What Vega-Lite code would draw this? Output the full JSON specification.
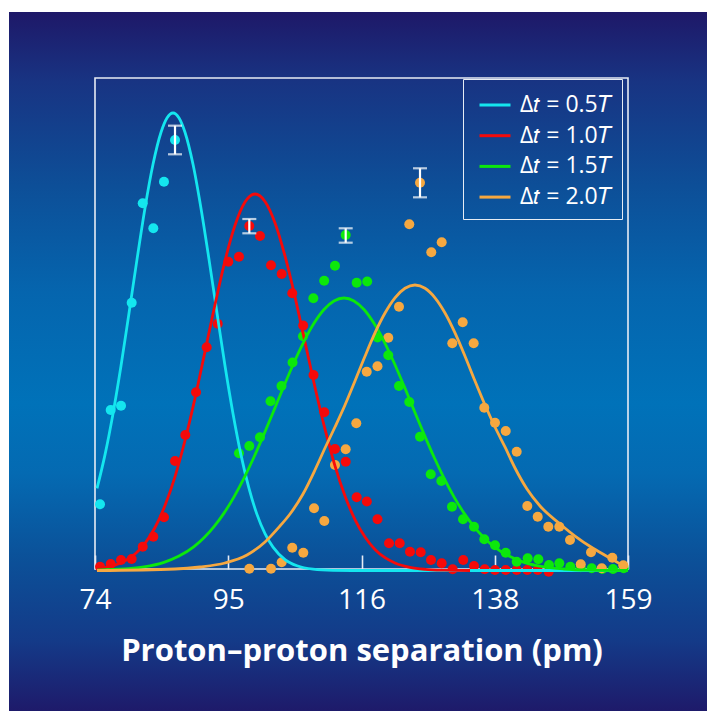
{
  "$schema": "https://vega.github.io/schema/vega-lite/v6.json",
  "width": 698,
  "height": 699,
  "autosize": {"type": "none"},
  "padding": {"left": 9, "top": 12, "right": 0, "bottom": 0},
  "background": "white",
  "config": {
    "view": {
      "stroke": null,
      "fill": {
        "gradient": "linear", "x1": 0, "y1": 0, "x2": 0, "y2": 1,
        "stops": [
          {"offset": 0, "color": "#1e1868"},
          {"offset": 0.1, "color": "#183483"},
          {"offset": 0.25, "color": "#0d4f98"},
          {"offset": 0.4, "color": "#0565ae"},
          {"offset": 0.56, "color": "#0072b9"},
          {"offset": 0.66, "color": "#046ab2"},
          {"offset": 0.78, "color": "#0b5199"},
          {"offset": 0.9, "color": "#143a88"},
          {"offset": 1, "color": "#1e1a6a"}
        ]
      }
    },
    "font": "Open Sans"
  },
  "resolve": {"scale": {"color": "independent"}, "legend": {"color": "independent"}},
  "datasets": {
    "pts": [
      {"k": "0.5", "x": 74.80, "y": 13.18}, {"k": "0.5", "x": 76.50, "y": 32.38}, {"k": "0.5", "x": 78.15, "y": 33.26}, {"k": "0.5", "x": 79.85, "y": 54.24}, {"k": "0.5", "x": 81.61, "y": 74.48}, {"k": "0.5", "x": 83.30, "y": 69.39}, {"k": "0.5", "x": 85.00, "y": 78.88}, {"k": "0.5", "x": 86.76, "y": 87.37},
      {"k": "1.0", "x": 74.80, "y": 0.47}, {"k": "1.0", "x": 76.50, "y": 1.02}, {"k": "1.0", "x": 78.15, "y": 1.83}, {"k": "1.0", "x": 79.85, "y": 2.04}, {"k": "1.0", "x": 81.61, "y": 4.54}, {"k": "1.0", "x": 83.30, "y": 6.58}, {"k": "1.0", "x": 85.00, "y": 10.53}, {"k": "1.0", "x": 86.76, "y": 22.00}, {"k": "1.0", "x": 88.40, "y": 27.29}, {"k": "1.0", "x": 90.11, "y": 35.99}, {"k": "1.0", "x": 91.81, "y": 45.15}, {"k": "1.0", "x": 93.57, "y": 49.96}, {"k": "1.0", "x": 95.26, "y": 62.59}, {"k": "1.0", "x": 96.96, "y": 63.61}, {"k": "1.0", "x": 98.61, "y": 69.86}, {"k": "1.0", "x": 100.31, "y": 67.82}, {"k": "1.0", "x": 102.07, "y": 61.87}, {"k": "1.0", "x": 103.77, "y": 60.08}, {"k": "1.0", "x": 105.46, "y": 56.15}, {"k": "1.0", "x": 107.20, "y": 49.59}, {"k": "1.0", "x": 108.85, "y": 39.51}, {"k": "1.0", "x": 110.57, "y": 31.91}, {"k": "1.0", "x": 112.27, "y": 24.44}, {"k": "1.0", "x": 113.98, "y": 21.85}, {"k": "1.0", "x": 115.73, "y": 14.60}, {"k": "1.0", "x": 117.35, "y": 13.75}, {"k": "1.0", "x": 119.05, "y": 10.12}, {"k": "1.0", "x": 120.89, "y": 5.23}, {"k": "1.0", "x": 122.59, "y": 5.23}, {"k": "1.0", "x": 124.23, "y": 3.52}, {"k": "1.0", "x": 125.94, "y": 3.40}, {"k": "1.0", "x": 127.58, "y": 1.83}, {"k": "1.0", "x": 129.29, "y": 1.16}, {"k": "1.0", "x": 131.04, "y": -0.06}, {"k": "1.0", "x": 132.73, "y": 1.83}, {"k": "1.0", "x": 134.44, "y": 0.61}, {"k": "1.0", "x": 136.15, "y": -0.06}, {"k": "1.0", "x": 137.79, "y": -0.2}, {"k": "1.0", "x": 139.50, "y": -0.2}, {"k": "1.0", "x": 141.25, "y": -0.2}, {"k": "1.0", "x": 142.94, "y": -0.2}, {"k": "1.0", "x": 144.60, "y": -0.2}, {"k": "1.0", "x": 146.35, "y": -0.55},
      {"k": "1.5", "x": 96.96, "y": 23.56}, {"k": "1.5", "x": 98.61, "y": 25.05}, {"k": "1.5", "x": 100.31, "y": 26.82}, {"k": "1.5", "x": 101.99, "y": 34.15}, {"k": "1.5", "x": 103.74, "y": 37.27}, {"k": "1.5", "x": 105.50, "y": 42.06}, {"k": "1.5", "x": 107.17, "y": 47.39}, {"k": "1.5", "x": 108.82, "y": 55.15}, {"k": "1.5", "x": 110.55, "y": 58.72}, {"k": "1.5", "x": 112.27, "y": 61.77}, {"k": "1.5", "x": 113.98, "y": 68.02}, {"k": "1.5", "x": 115.73, "y": 58.31}, {"k": "1.5", "x": 117.41, "y": 58.55}, {"k": "1.5", "x": 119.05, "y": 47.15}, {"k": "1.5", "x": 120.77, "y": 43.52}, {"k": "1.5", "x": 122.48, "y": 37.27}, {"k": "1.5", "x": 124.12, "y": 34.01}, {"k": "1.5", "x": 125.83, "y": 26.94}, {"k": "1.5", "x": 127.54, "y": 19.29}, {"k": "1.5", "x": 129.23, "y": 17.92}, {"k": "1.5", "x": 130.93, "y": 12.69}, {"k": "1.5", "x": 132.69, "y": 10.12}, {"k": "1.5", "x": 134.44, "y": 8.62}, {"k": "1.5", "x": 136.08, "y": 6.05}, {"k": "1.5", "x": 137.79, "y": 4.83}, {"k": "1.5", "x": 139.50, "y": 3.32}, {"k": "1.5", "x": 141.25, "y": 1.49}, {"k": "1.5", "x": 143.00, "y": 2.18}, {"k": "1.5", "x": 144.70, "y": 1.98}, {"k": "1.5", "x": 146.40, "y": 0.81}, {"k": "1.5", "x": 148.05, "y": 1.16}, {"k": "1.5", "x": 149.80, "y": 0.47}, {"k": "1.5", "x": 151.46, "y": 0.35}, {"k": "1.5", "x": 153.21, "y": 0.14}, {"k": "1.5", "x": 154.90, "y": 0.0}, {"k": "1.5", "x": 156.61, "y": 0.0}, {"k": "1.5", "x": 158.31, "y": 0.14},
      {"k": "2.0", "x": 98.61, "y": 0.06}, {"k": "2.0", "x": 102.07, "y": 0.06}, {"k": "2.0", "x": 103.77, "y": 1.36}, {"k": "2.0", "x": 105.46, "y": 4.34}, {"k": "2.0", "x": 107.22, "y": 3.32}, {"k": "2.0", "x": 108.93, "y": 12.36}, {"k": "2.0", "x": 110.57, "y": 9.78}, {"k": "2.0", "x": 112.27, "y": 21.18}, {"k": "2.0", "x": 113.98, "y": 24.38}, {"k": "2.0", "x": 115.67, "y": 29.67}, {"k": "2.0", "x": 117.33, "y": 40.18}, {"k": "2.0", "x": 119.05, "y": 41.28}, {"k": "2.0", "x": 120.77, "y": 47.11}, {"k": "2.0", "x": 122.48, "y": 53.42}, {"k": "2.0", "x": 124.12, "y": 70.22}, {"k": "2.0", "x": 125.83, "y": 78.68}, {"k": "2.0", "x": 127.63, "y": 64.52}, {"k": "2.0", "x": 129.29, "y": 66.54}, {"k": "2.0", "x": 130.98, "y": 45.97}, {"k": "2.0", "x": 132.64, "y": 50.25}, {"k": "2.0", "x": 134.39, "y": 45.97}, {"k": "2.0", "x": 136.08, "y": 32.85}, {"k": "2.0", "x": 137.79, "y": 29.80}, {"k": "2.0", "x": 139.50, "y": 28.11}, {"k": "2.0", "x": 141.25, "y": 23.89}, {"k": "2.0", "x": 142.94, "y": 12.83}, {"k": "2.0", "x": 144.60, "y": 10.65}, {"k": "2.0", "x": 146.29, "y": 8.62}, {"k": "2.0", "x": 148.05, "y": 8.62}, {"k": "2.0", "x": 149.75, "y": 5.91}, {"k": "2.0", "x": 151.46, "y": 0.96}, {"k": "2.0", "x": 153.10, "y": 3.40}, {"k": "2.0", "x": 154.81, "y": 0.14}, {"k": "2.0", "x": 156.50, "y": 2.30}, {"k": "2.0", "x": 158.25, "y": 0.75}
    ],
    "curves": [
      {"k": "0.5", "x": 74.32, "y": 16.42}, {"k": "0.5", "x": 75.59, "y": 23.24}, {"k": "0.5", "x": 76.87, "y": 31.63}, {"k": "0.5", "x": 78.15, "y": 41.38}, {"k": "0.5", "x": 79.42, "y": 52.10}, {"k": "0.5", "x": 80.70, "y": 63.06}, {"k": "0.5", "x": 81.97, "y": 73.48}, {"k": "0.5", "x": 83.25, "y": 82.42}, {"k": "0.5", "x": 84.53, "y": 88.96}, {"k": "0.5", "x": 85.48, "y": 91.87}, {"k": "0.5", "x": 86.44, "y": 92.87}, {"k": "0.5", "x": 87.40, "y": 91.87}, {"k": "0.5", "x": 88.35, "y": 88.96}, {"k": "0.5", "x": 89.63, "y": 82.42}, {"k": "0.5", "x": 90.90, "y": 73.48}, {"k": "0.5", "x": 92.18, "y": 63.06}, {"k": "0.5", "x": 93.46, "y": 52.10}, {"k": "0.5", "x": 94.73, "y": 41.38}, {"k": "0.5", "x": 96.01, "y": 31.63}, {"k": "0.5", "x": 97.28, "y": 23.24}, {"k": "0.5", "x": 98.56, "y": 16.42}, {"k": "0.5", "x": 99.83, "y": 11.12}, {"k": "0.5", "x": 101.11, "y": 7.21}, {"k": "0.5", "x": 102.39, "y": 4.46}, {"k": "0.5", "x": 104.30, "y": 1.93}, {"k": "0.5", "x": 106.21, "y": 0.65}, {"k": "0.5", "x": 108.77, "y": -0.04}, {"k": "0.5", "x": 111.95, "y": -0.26}, {"k": "0.5", "x": 116.26, "y": -0.31}, {"k": "0.5", "x": 159.0, "y": -0.31},
      {"k": "1.0", "x": 74.32, "y": 0.04}, {"k": "1.0", "x": 75.59, "y": 0.29}, {"k": "1.0", "x": 77.19, "y": 0.79}, {"k": "1.0", "x": 78.78, "y": 1.65}, {"k": "1.0", "x": 80.38, "y": 3.05}, {"k": "1.0", "x": 81.97, "y": 5.23}, {"k": "1.0", "x": 83.57, "y": 8.45}, {"k": "1.0", "x": 85.16, "y": 12.91}, {"k": "1.0", "x": 86.76, "y": 18.82}, {"k": "1.0", "x": 88.35, "y": 26.17}, {"k": "1.0", "x": 89.95, "y": 34.81}, {"k": "1.0", "x": 91.54, "y": 44.28}, {"k": "1.0", "x": 93.14, "y": 53.87}, {"k": "1.0", "x": 94.73, "y": 62.77}, {"k": "1.0", "x": 96.33, "y": 70.00}, {"k": "1.0", "x": 97.92, "y": 74.73}, {"k": "1.0", "x": 99.52, "y": 76.37}, {"k": "1.0", "x": 101.11, "y": 74.85}, {"k": "1.0", "x": 102.71, "y": 70.47}, {"k": "1.0", "x": 104.30, "y": 63.75}, {"k": "1.0", "x": 105.90, "y": 55.38}, {"k": "1.0", "x": 107.49, "y": 46.21}, {"k": "1.0", "x": 109.08, "y": 37.03}, {"k": "1.0", "x": 110.68, "y": 28.47}, {"k": "1.0", "x": 112.27, "y": 21.02}, {"k": "1.0", "x": 113.87, "y": 14.87}, {"k": "1.0", "x": 115.46, "y": 10.06}, {"k": "1.0", "x": 117.06, "y": 6.52}, {"k": "1.0", "x": 118.65, "y": 3.99}, {"k": "1.0", "x": 120.25, "y": 2.30}, {"k": "1.0", "x": 121.84, "y": 1.22}, {"k": "1.0", "x": 124.23, "y": 0.33}, {"k": "1.0", "x": 126.63, "y": -0.06}, {"k": "1.0", "x": 129.82, "y": -0.24}, {"k": "1.0", "x": 133.81, "y": -0.31},
      {"k": "1.5", "x": 74.32, "y": -0.22}, {"k": "1.5", "x": 78.62, "y": 0.0}, {"k": "1.5", "x": 81.81, "y": 0.43}, {"k": "1.5", "x": 85.00, "y": 1.36}, {"k": "1.5", "x": 87.40, "y": 2.63}, {"k": "1.5", "x": 89.79, "y": 4.56}, {"k": "1.5", "x": 91.38, "y": 6.35}, {"k": "1.5", "x": 92.98, "y": 8.62}, {"k": "1.5", "x": 94.57, "y": 11.38}, {"k": "1.5", "x": 96.17, "y": 14.70}, {"k": "1.5", "x": 97.76, "y": 18.51}, {"k": "1.5", "x": 99.36, "y": 22.81}, {"k": "1.5", "x": 100.95, "y": 27.47}, {"k": "1.5", "x": 102.55, "y": 32.36}, {"k": "1.5", "x": 104.14, "y": 37.29}, {"k": "1.5", "x": 105.74, "y": 42.06}, {"k": "1.5", "x": 107.33, "y": 46.37}, {"k": "1.5", "x": 108.92, "y": 50.04}, {"k": "1.5", "x": 110.52, "y": 52.85}, {"k": "1.5", "x": 112.11, "y": 54.60}, {"k": "1.5", "x": 113.71, "y": 55.19}, {"k": "1.5", "x": 115.30, "y": 54.60}, {"k": "1.5", "x": 116.90, "y": 52.85}, {"k": "1.5", "x": 118.49, "y": 50.04}, {"k": "1.5", "x": 120.09, "y": 46.37}, {"k": "1.5", "x": 121.68, "y": 42.06}, {"k": "1.5", "x": 123.28, "y": 37.29}, {"k": "1.5", "x": 124.87, "y": 32.36}, {"k": "1.5", "x": 126.47, "y": 27.47}, {"k": "1.5", "x": 128.06, "y": 22.81}, {"k": "1.5", "x": 129.66, "y": 18.51}, {"k": "1.5", "x": 131.25, "y": 14.70}, {"k": "1.5", "x": 132.85, "y": 11.38}, {"k": "1.5", "x": 134.44, "y": 8.62}, {"k": "1.5", "x": 136.04, "y": 6.35}, {"k": "1.5", "x": 137.63, "y": 4.56}, {"k": "1.5", "x": 140.02, "y": 2.63}, {"k": "1.5", "x": 142.42, "y": 1.36}, {"k": "1.5", "x": 145.61, "y": 0.43}, {"k": "1.5", "x": 148.80, "y": 0.0}, {"k": "1.5", "x": 152.78, "y": -0.22}, {"k": "1.5", "x": 159.0, "y": -0.31},
      {"k": "2.0", "x": 74.32, "y": -0.31}, {"k": "2.0", "x": 86.76, "y": 0.0}, {"k": "2.0", "x": 90.74, "y": 0.41}, {"k": "2.0", "x": 94.73, "y": 1.22}, {"k": "2.0", "x": 98.24, "y": 2.85}, {"k": "2.0", "x": 101.11, "y": 5.50}, {"k": "2.0", "x": 103.50, "y": 8.76}, {"k": "2.0", "x": 105.10, "y": 11.20}, {"k": "2.0", "x": 107.17, "y": 15.27}, {"k": "2.0", "x": 109.08, "y": 20.16}, {"k": "2.0", "x": 110.68, "y": 24.64}, {"k": "2.0", "x": 112.27, "y": 28.92}, {"k": "2.0", "x": 113.87, "y": 33.40}, {"k": "2.0", "x": 115.46, "y": 38.29}, {"k": "2.0", "x": 117.06, "y": 43.34}, {"k": "2.0", "x": 118.65, "y": 48.09}, {"k": "2.0", "x": 120.25, "y": 52.14}, {"k": "2.0", "x": 121.84, "y": 55.23}, {"k": "2.0", "x": 123.44, "y": 57.17}, {"k": "2.0", "x": 125.03, "y": 57.84}, {"k": "2.0", "x": 126.63, "y": 57.17}, {"k": "2.0", "x": 128.22, "y": 55.23}, {"k": "2.0", "x": 129.82, "y": 52.14}, {"k": "2.0", "x": 131.41, "y": 48.09}, {"k": "2.0", "x": 133.01, "y": 43.34}, {"k": "2.0", "x": 134.60, "y": 38.29}, {"k": "2.0", "x": 136.20, "y": 33.40}, {"k": "2.0", "x": 137.79, "y": 28.92}, {"k": "2.0", "x": 139.38, "y": 24.85}, {"k": "2.0", "x": 140.98, "y": 20.57}, {"k": "2.0", "x": 142.89, "y": 16.29}, {"k": "2.0", "x": 144.97, "y": 12.83}, {"k": "2.0", "x": 148.16, "y": 9.17}, {"k": "2.0", "x": 150.55, "y": 6.72}, {"k": "2.0", "x": 153.42, "y": 4.22}, {"k": "2.0", "x": 156.13, "y": 2.24}, {"k": "2.0", "x": 158.20, "y": 0.81}, {"k": "2.0", "x": 159.0, "y": 0.51}
    ],
    "err": [
      {"k": "0.5", "x": 86.76, "lo": 84.46, "hi": 90.29},
      {"k": "1.0", "x": 98.61, "lo": 68.37, "hi": 71.28},
      {"k": "1.5", "x": 113.98, "lo": 66.46, "hi": 69.39},
      {"k": "2.0", "x": 125.83, "lo": 75.70, "hi": 81.61}
    ]
  },
  "layer": [
    {
      "data": {"values": [{}]},
      "mark": {"type": "rect", "fillOpacity": 0, "stroke": "#e6ecf4", "strokeWidth": 1.6},
      "encoding": {
        "x": {"datum": 74, "type": "quantitative", "scale": {"domain": [74, 159], "range": [86, 619], "nice": false, "zero": false}},
        "x2": {"datum": 159},
        "y": {"datum": 0, "type": "quantitative", "scale": {"domain": [0, 100], "range": [557, 66], "nice": false, "zero": false}, "axis": null},
        "y2": {"datum": 100}
      }
    },
    {
      "data": {"name": "pts"},
      "mark": {"type": "circle", "size": 100, "opacity": 1},
      "encoding": {
        "x": {
          "field": "x", "type": "quantitative",
          "scale": {"domain": [74, 159], "range": [86, 619], "nice": false, "zero": false},
          "axis": {
            "values": [74, 95.25, 116.5, 137.75, 159],
            "labelExpr": "floor(datum.value + 0.3)",
            "domain": false, "grid": false,
            "ticks": true, "tickSize": -14, "tickColor": "#e6ecf4", "tickWidth": 1.6,
            "labelColor": "white", "labelFont": "Open Sans", "labelFontSize": 28,
            "labelBaseline": "alphabetic", "labelPadding": 53,
            "labelFlush": false, "labelOverlap": false,
            "offset": -142,
            "title": "Proton–proton separation (pm)",
            "titleColor": "white", "titleFont": "Open Sans", "titleFontSize": 31, "titleFontWeight": "bold",
            "titleBaseline": "alphabetic", "titleY": 91
          }
        },
        "y": {"field": "y", "type": "quantitative", "scale": {"domain": [0, 100], "range": [557, 66], "nice": false, "zero": false}, "axis": null},
        "color": {"field": "k", "type": "nominal", "scale": {"domain": ["0.5", "1.0", "1.5", "2.0"], "range": ["#14e6ef", "#f50a0a", "#0ce80c", "#f6a840"]}, "legend": null}
      }
    },
    {
      "data": {"name": "curves"},
      "mark": {"type": "line", "strokeWidth": 2.8, "interpolate": "monotone"},
      "encoding": {
        "x": {"field": "x", "type": "quantitative", "scale": {"domain": [74, 159], "range": [86, 619], "nice": false, "zero": false}},
        "y": {"field": "y", "type": "quantitative", "scale": {"domain": [0, 100], "range": [557, 66], "nice": false, "zero": false}, "axis": null},
        "color": {
          "field": "k", "type": "nominal",
          "scale": {"domain": ["0.5", "1.0", "1.5", "2.0"], "range": ["#14e6ef", "#f50a0a", "#0ce80c", "#f6a840"]},
          "legend": {
            "orient": "none", "legendX": 454, "legendY": 67, "title": null,
            "labelExpr": "'Δ𝑡 = ' + datum.label + '𝑇'",
            "symbolType": "stroke", "symbolSize": 961, "symbolStrokeWidth": 3, "symbolOffset": 6,
            "labelColor": "white", "labelFont": "Open Sans", "labelFontSize": 23, "labelOffset": 8,
            "padding": 9, "rowPadding": 1.7,
            "strokeColor": "#e6ecf4"
          }
        }
      }
    },
    {
      "data": {"name": "err"},
      "mark": {"type": "errorbar", "ticks": {"size": 14, "thickness": 2.2, "color": "white"}, "rule": {"strokeWidth": 2.2, "color": "white"}},
      "encoding": {
        "x": {"field": "x", "type": "quantitative", "scale": {"domain": [74, 159], "range": [86, 619], "nice": false, "zero": false}},
        "y": {"field": "lo", "type": "quantitative", "scale": {"domain": [0, 100], "range": [557, 66], "nice": false, "zero": false}, "axis": null},
        "y2": {"field": "hi"}
      }
    }
  ]
}
